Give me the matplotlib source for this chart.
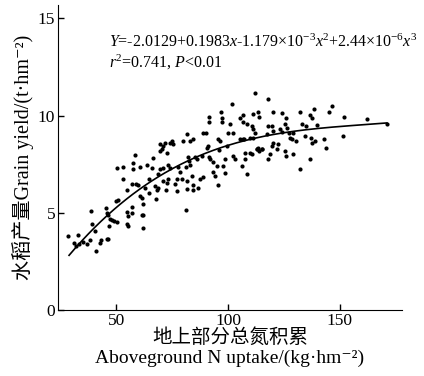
import numpy as np
import matplotlib
matplotlib.use("Agg")
import matplotlib.pyplot as plt

plt.rcParams['font.family'] = ['Liberation Serif', 'Noto Sans CJK SC', 'DejaVu Serif']
plt.rcParams['mathtext.fontset'] = 'custom'
plt.rcParams['mathtext.rm'] = 'Liberation Serif'
plt.rcParams['mathtext.it'] = 'Liberation Serif:italic'

# N uptake (kg/hm2) and grain yield (t/hm2)
n_uptake = [
    28.7, 33.2, 31.0, 32.1, 33.6, 35.1, 36.9, 38.4, 38.7, 39.1, 40.6, 41.1, 42.6, 43.2, 45.8,
    46.6, 45.5, 45.8, 46.6, 47.3, 48.1, 49.1, 50.3, 47.0, 50.0, 51.0, 53.3, 50.3, 53.0, 54.8,
    55.1, 55.5, 57.0, 54.8, 55.5, 57.0, 57.0, 57.4, 58.5, 57.7, 58.9, 60.0, 60.7, 61.5, 60.7,
    62.2, 61.5, 62.2, 61.9, 62.9, 64.0, 64.9, 64.9, 65.9, 66.7, 67.4, 68.2, 67.9, 68.9, 69.6,
    68.9, 69.6, 71.1, 70.4, 69.6, 71.9, 70.8, 71.1, 72.6, 73.4, 72.6, 72.3, 74.1, 74.9, 75.6,
    73.4, 74.1, 76.3, 77.1, 77.8, 77.1, 78.6, 79.3, 80.1, 81.3, 81.5, 81.5, 81.3, 82.3, 82.7,
    83.0, 83.8, 84.2, 84.5, 81.8, 83.0, 84.5, 85.3, 86.0, 86.8, 87.5, 88.2, 89.0, 88.7, 90.2,
    90.5, 91.2, 91.7, 92.0, 93.2, 93.5, 94.2, 94.9, 95.7, 96.1, 96.4, 95.7, 91.7, 91.7, 96.7,
    97.2, 97.2, 97.9, 98.7, 98.7, 99.4, 100.1, 100.9, 101.6, 102.4, 102.1, 103.1, 105.4, 106.5,
    106.8, 106.1, 107.1, 108.3, 107.6,
    112.1, 118.0, 111.3, 113.5, 114.0, 120.2, 124.0, 125.9, 125.4, 132.1, 136.6, 137.4, 138.4,
    145.2, 146.3, 151.9, 162.2, 110.6, 111.0, 112.1, 118.0, 119.5, 120.2, 117.3, 123.2, 124.0,
    126.2, 127.4, 129.2, 132.9, 134.8, 139.6, 111.3, 112.8, 114.0, 115.0, 113.5, 118.0, 118.8,
    119.5, 120.2, 121.7, 122.5, 125.4, 125.9, 127.7, 128.4, 130.4, 129.2, 132.1, 134.4, 136.9,
    137.4, 138.8, 136.6, 143.0, 143.8, 151.2, 110.6, 170.8,
    107.6, 109.9, 112.8, 115.1, 105.4, 106.9, 109.9, 108.4,
]
grain_yield = [
    3.82, 3.87, 3.44, 3.27, 3.41, 3.47, 3.41, 3.61, 5.08, 4.44, 4.04, 3.01, 3.44, 3.58, 3.65,
    3.65, 5.25, 4.99, 4.90, 4.68, 4.61, 4.56, 4.51, 4.30, 5.59, 5.64, 7.36, 7.31, 6.74, 6.19,
    5.02, 4.85, 4.99, 4.44, 4.34, 5.30, 6.50, 7.57, 7.95, 7.26, 6.50, 6.45, 5.85, 5.76, 7.36,
    5.47, 4.90, 4.90, 4.21, 6.28, 7.48, 6.71, 6.02, 7.31, 7.83, 6.37, 6.16, 5.71, 6.97, 7.23,
    6.28, 8.52, 8.43, 8.26, 8.17, 8.60, 7.31, 6.62, 6.54, 6.71, 8.05, 6.19, 8.60, 8.69, 8.52,
    7.48, 7.31, 6.50, 6.71, 7.36, 6.11, 7.09, 6.71, 8.69, 7.36, 6.62, 6.23, 5.13, 7.88, 7.66,
    7.48, 6.88, 6.45, 6.19, 9.03, 8.69, 8.78, 7.88, 7.74, 6.28, 6.71, 7.91, 6.85, 9.09, 9.12,
    8.35, 8.43, 7.88, 7.74, 7.60, 7.09, 6.88, 7.40, 6.45, 8.22, 8.69, 8.78, 9.95, 9.67, 10.19,
    9.89, 9.67, 7.40, 7.74, 7.02, 8.43, 9.12, 9.55, 10.58, 9.09, 7.91, 7.74, 9.89, 10.01,
    9.67, 7.43, 8.78, 6.97, 7.74,
    11.15, 10.84, 10.07, 10.20, 9.95, 10.20, 10.15, 9.89, 9.55, 10.20, 10.01, 9.89, 10.32,
    10.20, 10.50, 9.95, 9.81, 9.46, 9.33, 9.12, 9.46, 9.46, 9.21, 9.03, 9.29, 9.15,
    9.38, 9.12, 9.12, 9.55, 9.46, 9.50, 8.86, 8.26, 8.17, 8.26, 8.35, 7.74, 8.00,
    8.43, 8.60, 8.26, 8.52, 8.17, 7.91, 8.86, 8.78, 8.69, 8.00, 7.23, 8.95, 8.86,
    8.60, 8.69, 7.74, 8.78, 8.31, 8.95, 8.00, 9.58,
    8.09, 8.09, 8.26, 8.26, 8.78, 8.81, 8.86, 9.55,
]

# fitted cubic as printed on the chart (highest power first)
fit_coef = [2.44e-6, -1.179e-3, 0.1983, -2.0129]
fit_range = [29, 171]

fig = plt.figure(figsize=(4.24, 3.76), dpi=100)
ax = fig.add_axes([0.137, 0.176, 0.811, 0.811])

ax.scatter(n_uptake, grain_yield, s=9, color='black', linewidths=0, zorder=3)
xs = np.linspace(fit_range[0], fit_range[1], 200)
ax.plot(xs, np.polyval(fit_coef, xs), color='black', lw=1.2)

ax.set_xlim(24.1, 177.7)
ax.set_ylim(0, 15.7)
ax.set_xticks([50, 100, 150])
ax.set_yticks([0, 5, 10, 15])
ax.spines['top'].set_visible(False)
ax.spines['right'].set_visible(False)
ax.tick_params(direction='in', length=4, width=1, labelsize=12.5, pad=2)

ax.set_xlabel('地上部分总氮积累\nAboveground N uptake/(kg·hm⁻²)', fontsize=14, labelpad=0,
              linespacing=1.2)
ax.set_ylabel('水稻产量Grain yield/(t·hm⁻²)', fontsize=14.5, labelpad=3)

ax.text(0.148, 0.905,
        '$Y$=-2.0129+0.1983$x$-1.179×10$^{-3}$$x$$^2$+2.44×10$^{-6}$$x$$^3$\n'
        '$r$$^2$=0.741, $P$<0.01',
        transform=ax.transAxes, va='top', ha='left', fontsize=11.5, linespacing=1.15)

fig.savefig('out.png', dpi=100)
